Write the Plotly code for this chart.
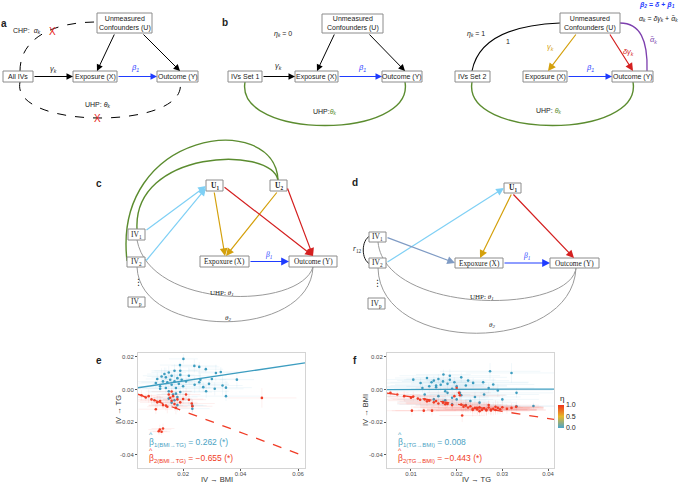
import plotly.graph_objects as go

W, H = 683, 483

# ---------------- data (panels e and f) ----------------
e_blue_x = [.0105,.011,.012,.0125,.013,.0135,.014,.014,.0145,.015,.015,.0155,.016,.016,.0165,.017,.017,.0175,.018,.018,
            .0185,.019,.019,.0195,.020,.0201,.0189,.019,.021,.022,.0239,.0256,.0279,.024,.026,.027,.0256,.028,.029,.030,
            .0314,.031,.0331,.0337,.0349,.0387,.0349,.0232,.0232,.015,.016,.017,.018,.0175,.012]
e_blue_y = [.004,.0065,.002,.008,.005,.0095,.001,.0075,.0045,.0105,-.001,.006,.003,.0085,-.003,.005,.0115,.001,.007,-.0045,
            .0035,.009,-.0015,.006,.002,.0188,.015,.0115,.005,.0085,.0145,.0139,.0125,.003,.006,.0015,.0045,-.001,.0035,.0065,
            .0102,.0005,.0108,.0025,.0012,.0061,-.004,-.0098,-.0117,-.0055,-.008,-.0065,-.0095,-.0025,.0005]
e_blue_sx = [.006,.004,.008,.005,.010,.006,.007,.005,.009,.006,.008,.005,.007,.010,.006,.005,.008,.012,.006,.007,
             .009,.005,.011,.006,.008,.005,.007,.009,.006,.010,.008,.007,.006,.012,.009,.006,.010,.008,.007,.009,
             .006,.010,.008,.007,.009,.006,.012,.005,.006,.008,.007,.006,.009,.005,.007]
e_blue_sy = [.003,.004,.002,.005,.003,.004,.003,.006,.002,.004,.005,.003,.004,.002,.006,.003,.004,.005,.003,.002,
             .004,.006,.003,.004,.005,.003,.002,.004,.003,.005,.004,.003,.002,.005,.004,.003,.006,.004,.003,.002,
             .005,.004,.003,.006,.004,.005,.003,.004,.002,.004,.003,.005,.004,.003,.002]
e_red_x = [.0055,.007,.008,.009,.010,.011,.012,.013,.014,.0145,.015,.0155,.016,.016,.0165,.017,.018,.019,.020,.021,
           .022,.023,.0175,.0119,.0125,.013,.0115,.0474,.0105,.0232]
e_red_y = [-.0035,-.0048,-.004,-.006,-.0065,-.0078,-.007,-.0095,-.0098,-.0105,-.003,-.005,-.0068,-.0012,-.004,-.0088,-.006,-.0078,-.0058,-.003,
           -.0062,-.0085,-.0112,-.0245,-.0258,-.0238,-.0255,-.0051,-.012,-.0102]
e_red_sx = [.005,.006,.004,.007,.005,.006,.008,.005,.006,.007,.004,.006,.005,.007,.006,.008,.005,.006,.007,.005,
            .006,.008,.005,.004,.003,.004,.003,.012,.006,.007]
e_red_sy = [.003,.002,.004,.003,.002,.004,.003,.002,.003,.004,.002,.003,.004,.002,.003,.004,.003,.002,.003,.004,
            .003,.002,.004,.003,.002,.003,.002,.006,.003,.004]

f_blue_x = [.0105,.0121,.0135,.014,.0145,.015,.0155,.016,.0165,.017,.0171,.0175,.018,.0185,.019,.0195,.020,.0207,.021,.022,
            .0236,.0258,.028,.0273,.032,.0331,.0368,.0331,.015,.016,.017,.018,.019,.020,.021,.022,.023,.024,.025,.026,
            .0125,.013,.0185,.019,.0225,.027,.029,.030,.0175,.0155]
f_blue_y = [.0061,.004,.0071,.002,.0045,.0055,.0015,.0065,.003,.005,.0092,-.001,.0035,.006,.0005,.0045,.002,-.002,.0075,.0025,
            .0041,.0045,.0031,.0112,.0102,-.002,-.010,-.0102,-.006,-.004,-.0075,-.002,-.009,-.006,-.0035,-.0095,-.007,-.0045,-.008,-.003,
            .001,-.003,.0085,-.005,.0055,.001,-.0005,-.006,-.0065,.0025]
f_blue_sx = [.008,.010,.007,.012,.009,.008,.011,.007,.010,.009,.006,.012,.008,.010,.009,.007,.011,.008,.010,.009,
             .012,.010,.009,.011,.010,.008,.010,.009,.008,.011,.010,.009,.012,.008,.010,.011,.009,.010,.008,.012,
             .009,.010,.011,.008,.009,.010,.012,.008,.009,.010]
f_blue_sy = [.002,.003,.002,.004,.002,.003,.002,.003,.004,.002,.003,.002,.004,.003,.002,.003,.002,.004,.003,.002,
             .003,.002,.004,.005,.006,.003,.002,.003,.002,.004,.003,.002,.003,.004,.002,.003,.002,.003,.004,.002,
             .003,.002,.004,.003,.002,.003,.004,.002,.003,.002]
f_red_x = [.0055,.007,.0085,.010,.0105,.0115,.012,.013,.0135,.014,.015,.0155,.016,.017,.0175,.018,.019,.0195,.020,.0205,
           .0207,.021,.0215,.022,.0225,.023,.0235,.024,.0245,.025,.0255,.026,.0265,.027,.0275,.028,.0285,.029,.0295,.030,
           .031,.032,.033,.0102,.0128,.0146,.0212,.0235,.025,.0265,.0275,.0285,.027,.0245,.0178]
f_red_y = [-.002,-.003,-.004,-.005,-.0042,-.0055,-.0062,-.006,-.0072,-.0068,-.0078,-.007,-.0085,-.008,-.009,-.0088,-.0095,-.004,.001,-.002,
           -.0035,-.0092,-.0105,-.0098,-.011,-.0102,-.0118,-.0112,-.0122,-.0108,-.0125,-.0115,-.0128,-.011,-.0122,-.0118,-.0125,-.0112,-.012,-.0108,
           -.0118,-.0112,-.0105,-.0129,-.0129,-.0129,-.0159,-.0125,-.0132,-.0122,-.0128,-.0105,-.0095,-.0115,-.0082]
f_red_sx = [.004,.005,.006,.005,.007,.006,.008,.007,.006,.009,.008,.007,.009,.008,.010,.009,.008,.010,.009,.007,
            .010,.009,.011,.010,.012,.011,.010,.012,.011,.013,.012,.010,.011,.012,.010,.011,.009,.010,.008,.009,
            .008,.007,.006,.006,.007,.008,.005,.012,.011,.013,.012,.010,.011,.012,.009]
f_red_sy = [.002,.002,.003,.002,.003,.002,.003,.002,.003,.002,.003,.002,.003,.002,.003,.002,.003,.002,.003,.002,
            .003,.004,.003,.004,.003,.004,.003,.004,.003,.004,.003,.004,.003,.004,.003,.004,.003,.004,.003,.004,
            .003,.003,.002,.003,.002,.003,.004,.004,.003,.004,.003,.004,.003,.004,.003]

e_beta1, e_beta2 = 0.262, -0.655
f_beta1, f_beta2 = 0.008, -0.443
e_xticks = [0.02, 0.04, 0.06]
f_xticks = [0.01, 0.02, 0.03, 0.04]
yticks = [0.02, 0.00, -0.02, -0.04]
eta_ticks = [0.0, 0.5, 1.0]

# ---------------- styles ----------------
SANS = "Liberation Sans"
SERIF = "Liberation Serif"
BLUE_ARR = "#1f3cff"
GREEN = "#5b8c2f"
GOLD = "#d4a00c"
RED = "#d42020"
PURPLE = "#7d3fae"
LBLUE = "#7fd0f5"
SLATE = "#7f9bc4"
GRAY = "#9a9a9a"
PT_BLUE = "#3d9dc0"
PT_RED = "#f03c26"
TXT_BLUE = "#4ba3c3"

curves, boxes, annotations = [], [], []


def label(x, y, text, size=7, color="#222", font=SANS, xanchor="center", angle=0, bold=False):
    if bold:
        text = "<b>" + text + "</b>"
    annotations.append(dict(x=x, y=y, xref="x", yref="y", text=text, showarrow=False,
                            xanchor=xanchor, yanchor="middle", textangle=angle,
                            font=dict(family=font, size=size, color=color)))


def box(x0, y0, x1, y1, text, font=SANS, size=7):
    boxes.append(dict(type="rect", xref="x", yref="y", x0=x0, y0=y0, x1=x1, y1=y1,
                      line=dict(color="#8c8c8c", width=1), fillcolor="white", layer="above"))
    label((x0 + x1) / 2, (y0 + y1) / 2, text, size=size, font=font)


def arrow(x0, y0, x1, y1, color="black", width=1.0):
    annotations.append(dict(x=x1, y=y1, ax=x0, ay=y0, xref="x", yref="y", axref="x", ayref="y",
                            text="", showarrow=True, arrowhead=2, arrowsize=1.3, arrowwidth=width,
                            arrowcolor=color, standoff=0, startstandoff=0))


def curve(p0, c1, c2, p1, color, width=1.0, dash="solid", head=True):
    path = f"M {p0[0]},{p0[1]} C {c1[0]},{c1[1]} {c2[0]},{c2[1]} {p1[0]},{p1[1]}"
    curves.append(dict(type="path", path=path, xref="x", yref="y", layer="above",
                       line=dict(color=color, width=width, dash=dash)))
    if head:
        dx, dy = p1[0] - c2[0], p1[1] - c2[1]
        n = (dx * dx + dy * dy) ** 0.5
        arrow(p1[0] - dx / n * 3, p1[1] - dy / n * 3, p1[0], p1[1], color, width)


# ---------------- panel a ----------------
label(4, 23, "a", size=10, bold=True)
curve((20, 71), (20, 40), (50, 22), (97, 22), "black", 1, "dash")
curve((20, 82), (10, 130), (190, 130), (180, 82), "black", 1, "dash")
box(97, 13, 152, 33, "Unmeasured<br>Confounders (U)")
box(3, 71, 33, 82, "All IVs")
box(73, 71, 117, 82, "Exposure (X)")
box(157, 71, 198, 82, "Outcome (Y)")
arrow(33, 76.5, 73, 76.5)
arrow(117, 76.5, 157, 76.5, BLUE_ARR)
arrow(115, 33, 97, 71)
arrow(142, 33, 180, 71)
label(53, 69, "<i>γ<sub>k</sub></i>", size=7.5)
label(135, 68, "<i>β<sub>1</sub></i>", size=7.5, color=BLUE_ARR)
label(27, 31, "CHP:  <i>α<sub>k</sub></i>", size=7)
label(97, 105, "UHP: <i>θ<sub>k</sub></i>", size=7)
label(52, 31, "X", size=10, color="#e8241c")
label(97, 118, "X", size=10, color="#e8241c")

# ---------------- panel b (left) ----------------
label(225, 22, "b", size=10, bold=True)
curve((245, 82), (235, 140), (415, 140), (405, 82), GREEN, 1.4)
box(322, 14, 383, 33, "Unmeasured<br>Confounders (U)")
box(228, 71, 262, 82, "IVs Set 1")
box(295, 71, 338, 82, "Exposure (X)")
box(382, 71, 422, 82, "Outcome (Y)")
arrow(262, 76.5, 295, 76.5)
arrow(338, 76.5, 382, 76.5, BLUE_ARR)
arrow(335, 33, 317, 71)
arrow(368, 33, 405, 71)
label(283, 34, "<i>η<sub>k</sub></i> = 0", size=7)
label(278, 66, "<i>γ<sub>k</sub></i>", size=7.5)
label(362, 68, "<i>β<sub>1</sub></i>", size=7.5, color=BLUE_ARR)
label(325, 112, "UHP:<span style='color:%s'><i>θ<sub>k</sub></i></span>" % GREEN, size=7)

# ---------------- panel b (right) ----------------
curve((472, 71), (478, 40), (510, 25), (560, 23), "black", 1.1)
curve((620, 23), (640, 23), (648, 40), (647, 71), PURPLE, 1.3)
curve((472, 82), (462, 140), (643, 140), (633, 82), GREEN, 1.4)
box(560, 13, 620, 33, "Unmeasured<br>Confounders (U)")
box(455, 71, 490, 82, "IVs Set 2")
box(523, 71, 567, 82, "Exposure (X)")
box(612, 71, 653, 82, "Outcome (Y)")
arrow(567, 76.5, 612, 76.5, BLUE_ARR)
arrow(577, 33, 548, 71, GOLD, 1.2)
arrow(609, 33, 633, 71, RED, 1.2)
label(476, 34, "<i>η<sub>k</sub></i> = 1", size=7)
label(508, 41, "1", size=7)
label(550, 47, "<i>γ<sub>k</sub></i>", size=7.5, color=GOLD)
label(628, 52, "<i>δγ<sub>k</sub></i>", size=7.5, color=RED)
label(653, 40, "<i>α̃<sub>k</sub></i>", size=7.5, color=PURPLE)
label(590, 68, "<i>β<sub>1</sub></i>", size=7.5, color=BLUE_ARR)
label(548, 111, "UHP: <span style='color:%s'><i>θ<sub>k</sub></i></span>" % GREEN, size=7)
label(657, 5, "<i>β<sub>2</sub></i> = <i>δ</i> + <i>β<sub>1</sub></i>", size=7, color=BLUE_ARR, bold=True)
label(658, 19, "<i>α<sub>k</sub></i> = <i>δγ<sub>k</sub></i> + <i>α̃<sub>k</sub></i>", size=7)

# ---------------- panel c ----------------
label(99, 183, "c", size=10, bold=True)
curve((137, 229), (133, 150), (270, 145), (278, 180), GREEN, 1.4)
curve((127, 261), (112, 130), (275, 110), (278, 180), GREEN, 1.4)
curve((137, 240), (150, 310), (300, 310), (313, 267), GRAY, 1.0)
curve((137, 267), (140, 340), (310, 340), (313, 267), GRAY, 1.0)
box(206, 180, 223, 191, "<b>U<sub>1</sub></b>", SERIF, 7.5)
box(270, 180, 287, 191, "<b>U<sub>2</sub></b>", SERIF, 7.5)
box(128, 229, 145, 240, "IV<sub>1</sub>", SERIF, 7.5)
box(127, 257, 145, 267, "IV<sub>2</sub>", SERIF, 7.5)
box(128, 297, 145, 307, "IV<sub>p</sub>", SERIF, 7.5)
box(200, 256, 249, 267, "Expoxure (X)", SERIF, 7.3)
box(289, 256, 337, 267, "Outcome (Y)", SERIF, 7.3)
label(138, 282, "⋮", size=9, font="DejaVu Sans")
arrow(145, 231, 206, 186, LBLUE, 1.2)
arrow(145, 262, 206, 188, LBLUE, 1.2)
arrow(214, 191, 225, 256, GOLD, 1.2)
arrow(278, 191, 226, 256, GOLD, 1.2)
arrow(223, 186, 313, 256, RED, 1.2)
arrow(287, 187, 313, 256, RED, 1.2)
arrow(249, 261.5, 289, 261.5, BLUE_ARR, 1.2)
label(269, 255, "<i>β<sub>1</sub></i>", size=7.5, color=BLUE_ARR, font=SERIF)
label(222, 293, "UHP: <i>θ<sub>1</sub></i>", size=7, font=SERIF)
label(228, 318, "<i>θ<sub>2</sub></i>", size=7, font=SERIF)

# ---------------- panel d ----------------
label(355, 182, "d", size=10, bold=True)
curve((378, 242), (385, 315), (570, 315), (576, 268), GRAY, 1.0)
curve((378, 268), (380, 355), (572, 355), (576, 268), GRAY, 1.0)
curve((370, 236), (361, 240), (361, 260), (370, 264), "black", 0.9, head=False)
box(504, 183, 521, 193, "<b>U<sub>1</sub></b>", SERIF, 7.5)
box(369, 232, 386, 242, "IV<sub>1</sub>", SERIF, 7.5)
box(369, 258, 386, 268, "IV<sub>2</sub>", SERIF, 7.5)
box(368, 298, 385, 309, "IV<sub>p</sub>", SERIF, 7.5)
box(455, 258, 503, 268, "Expoxure (X)", SERIF, 7.3)
box(550, 258, 599, 268, "Outcome (Y)", SERIF, 7.3)
label(377, 283, "⋮", size=9, font="DejaVu Sans")
label(357, 249, "<i>r</i><sub>12</sub>", size=7.5, font=SERIF)
arrow(386, 263, 504, 188, LBLUE, 1.2)
arrow(386, 237, 455, 263, SLATE, 1.2)
arrow(512, 193, 480, 258, GOLD, 1.2)
arrow(512, 193, 574, 258, RED, 1.2)
arrow(503, 263, 550, 263, BLUE_ARR, 1.2)
label(527, 256, "<i>β<sub>1</sub></i>", size=7.5, color=BLUE_ARR, font=SERIF)
label(482, 297, "UHP: <i>θ<sub>1</sub></i>", size=7, font=SERIF)
label(492, 325, "<i>θ<sub>2</sub></i>", size=7, font=SERIF)

# ---------------- panels e, f ----------------
label(99, 360, "e", size=10, bold=True)
label(355, 360, "f", size=10, bold=True)

e_xr = [0.0043, 0.0624]
f_xr = [0.00475, 0.0413]
yr = [-0.048, 0.0224]

fig = go.Figure()


def scatter(x, y, sx, sy, color, err, xa, ya):
    fig.add_trace(go.Scatter(x=x, y=y, mode="markers", xaxis=xa, yaxis=ya, showlegend=False,
                             marker=dict(color=color, size=2.6, line=dict(width=0)),
                             error_x=dict(type="data", array=sx, color=err, thickness=0.8, width=0),
                             error_y=dict(type="data", array=sy, color=err, thickness=0.8, width=0)))


ERR_B = "rgba(80,165,200,0.10)"
ERR_R = "rgba(240,70,50,0.10)"
scatter(e_blue_x, e_blue_y, e_blue_sx, e_blue_sy, PT_BLUE, ERR_B, "x2", "y2")
scatter(e_red_x, e_red_y, e_red_sx, e_red_sy, PT_RED, ERR_R, "x2", "y2")
scatter(f_blue_x, f_blue_y, f_blue_sx, f_blue_sy, PT_BLUE, ERR_B, "x3", "y3")
scatter(f_red_x, f_red_y, f_red_sx, f_red_sy, PT_RED, ERR_R, "x3", "y3")

for xr, b1, b2, xa, ya in [(e_xr, e_beta1, e_beta2, "x2", "y2"), (f_xr, f_beta1, f_beta2, "x3", "y3")]:
    fig.add_trace(go.Scatter(x=xr, y=[b1 * v for v in xr], mode="lines", xaxis=xa, yaxis=ya,
                             showlegend=False, line=dict(color=PT_BLUE, width=1.3)))
    fig.add_trace(go.Scatter(x=xr, y=[b2 * v for v in xr], mode="lines", xaxis=xa, yaxis=ya,
                             showlegend=False, line=dict(color=PT_RED, width=1.3, dash="dash")))

# colour bar for eta
cbar = dict(x=558 / W, xanchor="left", y=1 - 416.5 / H, yanchor="middle",
            len=23, lenmode="pixels", thickness=6, thicknessmode="pixels",
            outlinewidth=0, xpad=0, ypad=0, ticks="",
            tickvals=eta_ticks, ticktext=[f"{v:.1f}" for v in eta_ticks],
            tickfont=dict(family=SANS, size=7, color="#222"))
fig.add_trace(go.Scatter(x=[None], y=[None], mode="markers", xaxis="x3", yaxis="y3", showlegend=False,
                         marker=dict(color=[0], cmin=0, cmax=1, showscale=True,
                                     colorscale=[[0, "#4aa5cb"], [0.5, "#e6b82a"], [1, "#f0341c"]],
                                     colorbar=cbar)))
label(562, 398, "η", size=8)

# axis titles and estimates
label(118, 410, "IV → TG", size=7.5, angle=-90, color="#333")
label(217, 479.5, "IV → BMI", size=7.5, color="#333")
label(365, 410, "IV → BMI", size=7.5, angle=-90, color="#333")
label(476, 479.5, "IV → TG", size=7.5, color="#333")
label(147, 442, "β<sub>1(BMI→TG)</sub> = %.3f (*)" % e_beta1, size=8.5, color=TXT_BLUE, xanchor="left")
label(147, 458, "β<sub>2(BMI→TG)</sub> = −%.3f (*)" % abs(e_beta2), size=8.5, color=PT_RED, xanchor="left")
label(396, 442, "β<sub>1(TG→BMI)</sub> = %.3f" % f_beta1, size=8.5, color=TXT_BLUE, xanchor="left")
label(396, 458, "β<sub>2(TG→BMI)</sub> = −%.3f (*)" % abs(f_beta2), size=8.5, color=PT_RED, xanchor="left")
for hx, hy, hc in [(150.5, 434, TXT_BLUE), (150.5, 450, PT_RED), (399.5, 434, TXT_BLUE), (399.5, 450, PT_RED)]:
    label(hx, hy, "^", size=7, color=hc)

axis_common = dict(showline=True, mirror=True, linecolor="#d4d4d4", linewidth=1, showgrid=False,
                   zeroline=False, ticks="outside", ticklen=2, tickwidth=0.8, tickcolor="#555",
                   tickfont=dict(family=SANS, size=6, color="#4d4d4d"), fixedrange=True)

fig.update_layout(
    width=W, height=H, margin=dict(l=0, r=0, t=0, b=0), autosize=False,
    paper_bgcolor="white", plot_bgcolor="white", showlegend=False,
    xaxis=dict(domain=[0, 1], range=[0, W], visible=False, fixedrange=True),
    yaxis=dict(domain=[0, 1], range=[H, 0], visible=False, fixedrange=True),
    xaxis2=dict(domain=[138 / W, 305 / W], range=e_xr, anchor="y2", tickvals=e_xticks,
                ticktext=[f"{v:.2f}" for v in e_xticks], ticklabelstandoff=-2, **axis_common),
    yaxis2=dict(domain=[1 - 468 / H, 1 - 353 / H], range=yr, anchor="x2", tickvals=yticks,
                ticktext=[f"{v:.2f}" for v in yticks], **axis_common),
    xaxis3=dict(domain=[387 / W, 554 / W], range=f_xr, anchor="y3", tickvals=f_xticks,
                ticktext=[f"{v:.2f}" for v in f_xticks], ticklabelstandoff=-2, **axis_common),
    yaxis3=dict(domain=[1 - 468 / H, 1 - 353 / H], range=yr, anchor="x3", tickvals=yticks,
                ticktext=[f"{v:.2f}" for v in yticks], **axis_common),
    shapes=curves + boxes,
    annotations=annotations,
)

fig.write_html("out.html", config={"displayModeBar": False},
               post_script="document.body.style.margin='0px';document.body.style.padding='0px';"
                           "document.documentElement.style.overflow='hidden';")
